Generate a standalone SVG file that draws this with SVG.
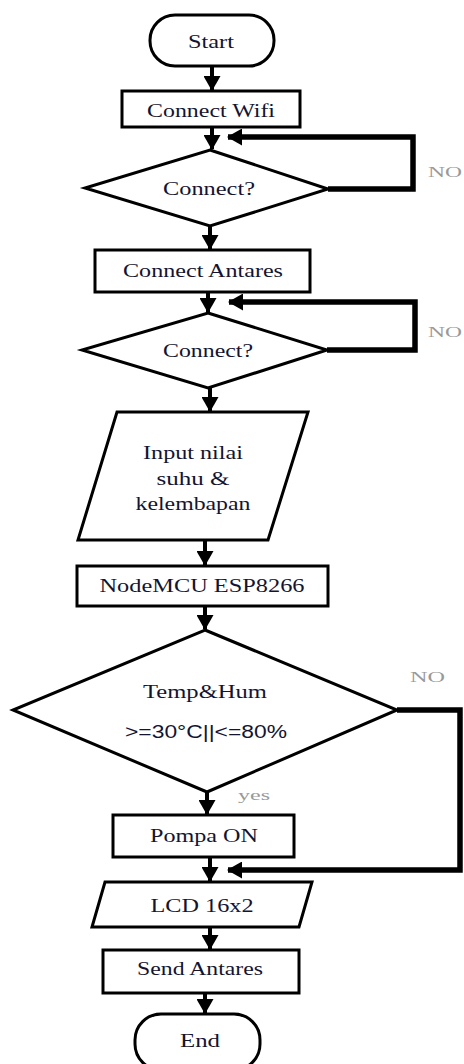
<svg xmlns="http://www.w3.org/2000/svg" width="464" height="1064" viewBox="0 0 464 1064">
<defs>
<marker id="ah" markerUnits="userSpaceOnUse" markerWidth="15" markerHeight="17" refX="14" refY="8.5" orient="auto">
<path d="M0,0 L15,8.5 L0,17 z" fill="#000"/>
</marker>
<style>
.shape{fill:#fff;stroke:#000;stroke-width:3}
.t{font-family:"Liberation Serif","Times New Roman",serif;font-size:18px;fill:#141430;text-anchor:middle}
.s{font-family:"Liberation Sans",Arial,sans-serif;font-size:18px;fill:#141430;text-anchor:middle}
.lbl{font-family:"Liberation Serif","Times New Roman",serif;font-size:14px;fill:#999}
.c{fill:none;stroke:#000;stroke-width:4;marker-end:url(#ah)}
.loop{fill:none;stroke:#000;stroke-width:5.5;marker-end:url(#ah)}
</style>
</defs>
<rect width="464" height="1064" fill="#fff"/>
<g id="connectors">
<path class="c" d="M212,67 L212,90"/>
<path class="c" d="M212,127 L212,149"/>
<path class="loop" d="M328,189 L413,189 L413,137 L228,137"/>
<path class="c" d="M210,226 L210,249"/>
<path class="c" d="M208,292 L208,312"/>
<path class="loop" d="M327,350 L415,350 L415,302 L229,302"/>
<path class="c" d="M210,388 L210,411"/>
<path class="c" d="M205,540 L205,565"/>
<path class="c" d="M205,606 L205,629"/>
<path class="c" d="M207,792 L207,814"/>
<path class="loop" d="M397,710 L460,710 L460,870 L228,870"/>
<path class="c" d="M210,857 L210,881"/>
<path class="c" d="M210,927 L210,949"/>
<path class="c" d="M205,993 L205,1013"/>
</g>
<g id="start"><rect class="shape" x="150" y="15" width="124" height="51" rx="25"/><text class="t" x="211" y="48" textLength="46" lengthAdjust="spacingAndGlyphs">Start</text></g>
<g id="connect-wifi"><rect class="shape" x="122" y="91" width="178" height="36"/><text class="t" x="211" y="117" textLength="128" lengthAdjust="spacingAndGlyphs">Connect Wifi</text></g>
<g id="decision-wifi"><polygon class="shape" points="210,150 328,189 210,226 85,188"/><text class="t" x="209" y="195" textLength="92" lengthAdjust="spacingAndGlyphs">Connect?</text></g>
<g id="connect-antares"><rect class="shape" x="95" y="250" width="215" height="42"/><text class="t" x="203" y="277" textLength="160" lengthAdjust="spacingAndGlyphs">Connect Antares</text></g>
<g id="decision-antares"><polygon class="shape" points="208,313 327,350 208,388 82,350"/><text class="t" x="208" y="357" textLength="90" lengthAdjust="spacingAndGlyphs">Connect?</text></g>
<g id="input"><polygon class="shape" points="117,412 308,412 268,540 78,540"/>
<text class="t" x="193" y="459" textLength="100" lengthAdjust="spacingAndGlyphs">Input nilai</text>
<text class="t" x="193" y="485" textLength="73" lengthAdjust="spacingAndGlyphs">suhu &amp;</text>
<text class="t" x="193" y="510" textLength="115" lengthAdjust="spacingAndGlyphs">kelembapan</text></g>
<g id="nodemcu"><rect class="shape" x="77" y="566" width="251" height="40"/><text class="t" x="202" y="592" textLength="205" lengthAdjust="spacingAndGlyphs">NodeMCU ESP8266</text></g>
<g id="decision-temp"><polygon class="shape" points="205,630 397,710 207,792 13,710"/>
<text class="t" x="205" y="698" textLength="124" lengthAdjust="spacingAndGlyphs">Temp&amp;Hum</text>
<text class="s" x="206" y="738" textLength="162" lengthAdjust="spacingAndGlyphs">&gt;=30°C||&lt;=80%</text></g>
<g id="pompa"><rect class="shape" x="113" y="815" width="181" height="42"/><text class="t" x="204" y="842" textLength="108" lengthAdjust="spacingAndGlyphs">Pompa ON</text></g>
<g id="lcd"><polygon class="shape" points="105,882 312,882 299,927 92,927"/><text class="t" x="202" y="912" textLength="103" lengthAdjust="spacingAndGlyphs">LCD 16x2</text></g>
<g id="send"><rect class="shape" x="103" y="950" width="196" height="43"/><text class="t" x="200" y="975" textLength="126" lengthAdjust="spacingAndGlyphs">Send Antares</text></g>
<g id="end"><rect class="shape" x="135" y="1014" width="125" height="56" rx="26"/><text class="t" x="200" y="1047" textLength="40" lengthAdjust="spacingAndGlyphs">End</text></g>
<g id="labels">
<text class="lbl" x="428" y="177" textLength="34" lengthAdjust="spacingAndGlyphs">NO</text>
<text class="lbl" x="428" y="337" textLength="34" lengthAdjust="spacingAndGlyphs">NO</text>
<text class="lbl" x="410" y="682" textLength="35" lengthAdjust="spacingAndGlyphs">NO</text>
<text class="lbl" x="238" y="800" textLength="32" lengthAdjust="spacingAndGlyphs">yes</text>
</g>
</svg>
